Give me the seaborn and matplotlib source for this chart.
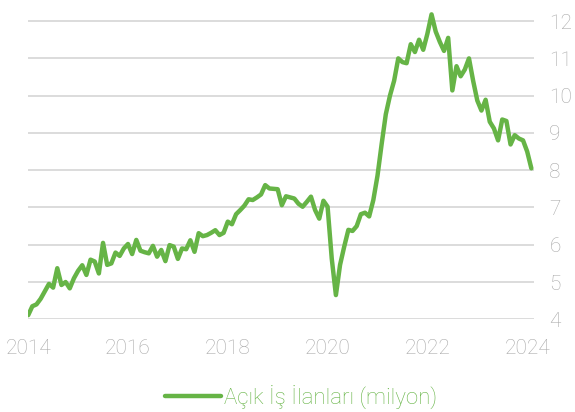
import numpy as np
import pandas as pd
import matplotlib
matplotlib.use("Agg")
import matplotlib.pyplot as plt
import seaborn as sns

# monthly job openings, Jan 2014 - Feb 2024 (millions)
openings = [
    4.11, 4.35, 4.40, 4.55, 4.75, 4.95, 4.85, 5.37, 4.92, 5.00, 4.83, 5.10,   # 2014
    5.30, 5.45, 5.19, 5.60, 5.55, 5.23, 6.05, 5.46, 5.50, 5.79, 5.70, 5.90,   # 2015
    6.02, 5.75, 6.13, 5.84, 5.80, 5.77, 5.97, 5.68, 5.86, 5.56, 5.99, 5.95,   # 2016
    5.62, 5.90, 5.88, 6.12, 5.81, 6.31, 6.23, 6.26, 6.32, 6.39, 6.26, 6.32,   # 2017
    6.62, 6.55, 6.82, 6.93, 7.05, 7.22, 7.20, 7.27, 7.35, 7.60, 7.51, 7.50,   # 2018
    7.49, 7.06, 7.30, 7.27, 7.24, 7.10, 7.02, 7.15, 7.29, 6.93, 6.70, 7.18,   # 2019
    7.02, 5.63, 4.65, 5.46, 5.95, 6.40, 6.37, 6.50, 6.82, 6.86, 6.76, 7.20,   # 2020
    7.85, 8.70, 9.50, 10.00, 10.40, 11.00, 10.90, 10.87, 11.38, 11.17, 11.50, 11.23,  # 2021
    11.66, 12.18, 11.72, 11.44, 11.20, 11.55, 10.14, 10.79, 10.52, 10.70, 11.00, 10.40,  # 2022
    9.87, 9.60, 9.89, 9.30, 9.12, 8.80, 9.36, 9.32, 8.69, 8.94, 8.85, 8.80,   # 2023
    8.50, 8.05,                                                               # 2024
]
years = [2014 + i / 12 for i in range(len(openings))]
x_ticks = [2014, 2016, 2018, 2020, 2022, 2024]
y_ticks = [4, 5, 6, 7, 8, 9, 10, 11, 12]
label = "Açık İş İlanları (milyon)"

df = pd.DataFrame({"year": years, "value": openings})

sns.set_style("white")
plt.rcParams["font.family"] = ["Roboto", "DejaVu Sans"]

green = "#66b446"
gray = "#a8a8a8"

fig = plt.figure(figsize=(5.75, 4.12), dpi=100)
ax = fig.add_axes([0.049, 0.225, 0.88, 0.76])

sns.lineplot(data=df, x="year", y="value", color=green, linewidth=3.2,
             label=label, ax=ax)

ax.set_xlim(2014, 2024.14)
ax.set_ylim(4, 12.4)
ax.set_xticks(x_ticks)
ax.set_yticks(y_ticks)
ax.set_xlabel("")
ax.set_ylabel("")
ax.yaxis.tick_right()
ax.grid(axis="y", color="#dcdcdc", linewidth=1.4)
ax.grid(axis="x", visible=False)
for s in ax.spines.values():
    s.set_visible(False)
ax.tick_params(axis="both", length=0, labelsize=15, labelcolor=gray)
ax.tick_params(axis="x", pad=14)
ax.tick_params(axis="y", pad=11)
for t in ax.get_xticklabels() + ax.get_yticklabels():
    t.set_fontweight("light")

leg = ax.legend(loc="upper center", bbox_to_anchor=(0.54, -0.145), frameon=False,
                fontsize=16, handlelength=2.5, handletextpad=0.15)
for t in leg.get_texts():
    t.set_color(green)
    t.set_fontweight("light")

fig.savefig("out.png", dpi=100)
